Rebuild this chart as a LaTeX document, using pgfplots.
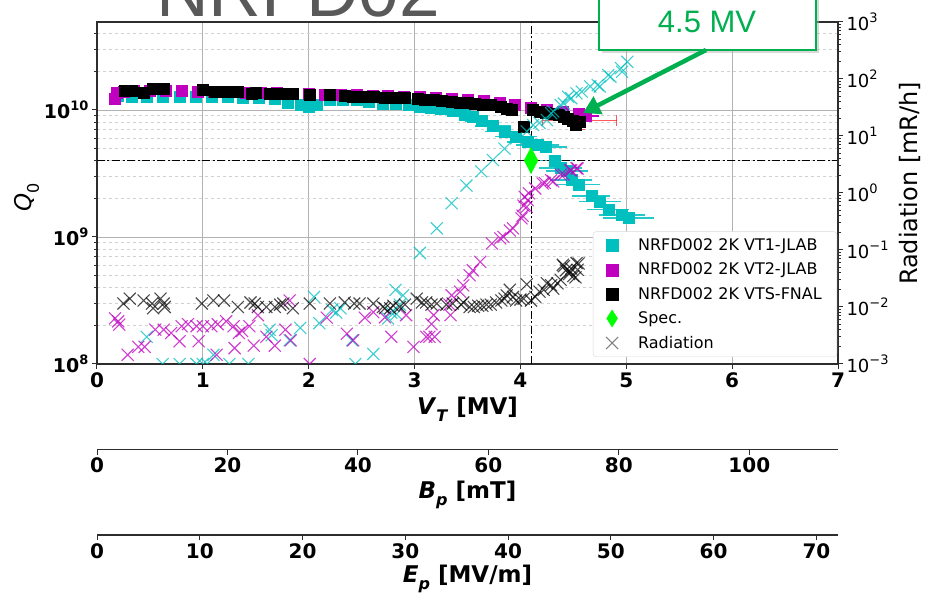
\documentclass[border=0pt]{standalone}
\usepackage{fontspec}
\setmainfont{DejaVu Sans}
\newfontfamily\arialfont{Liberation Sans}
\usepackage{pgfplots}
\pgfplotsset{compat=1.18}
\usetikzlibrary{arrows.meta}
\definecolor{cc}{RGB}{0,191,191}
\definecolor{mm}{RGB}{191,0,191}
\definecolor{callgreen}{RGB}{0,176,80}
\definecolor{limeg}{RGB}{0,255,0}
\definecolor{titlegray}{RGB}{89,89,89}
\definecolor{spine}{RGB}{45,45,45}
\newcommand{\tenexp}[1]{10\raisebox{0.45em}{\fontsize{13}{13}\selectfont #1}}
\begin{document}
\begin{tikzpicture}[x=1pt,y=1pt]
\useasboundingbox (0,0) rectangle (928,594);
\clip (0,0) rectangle (928,594);
% ---------------- main Q0 axis
\begin{axis}[
  at={(97pt,230pt)}, anchor=south west,
  scale only axis, width=741pt, height=342pt,
  xmin=0, xmax=7, ymode=log, ymin=1e8, ymax=4.93e10,
  axis line style={spine, line width=1.5pt},
  tick align=outside, major tick length=5pt, minor tick length=3pt,
  every tick/.style={spine, line width=1pt},
  xtick={0,1,2,3,4,5,6,7}, xticklabels={0,1,2,3,4,5,6,7},
  ytick={1e8,1e9,1e10}, yticklabels={\tenexp{8},\tenexp{9},\tenexp{10}},
  minor ytick={2e8,3e8,4e8,5e8,6e8,7e8,8e8,9e8,2e9,3e9,4e9,5e9,6e9,7e9,8e9,9e9,2e10,3e10,4e10},
  minor xtick={},
  xtick pos=bottom, ytick pos=left,
  xmajorgrids, ymajorgrids, yminorgrids,
  major grid style={black!30, line width=0.8pt},
  minor grid style={black!18, dashed, line width=0.6pt},
  xticklabel style={font=\bfseries\fontsize{20}{20}\selectfont},
  yticklabel style={font=\bfseries\fontsize{19}{19}\selectfont},
  xlabel={\bfseries\fontsize{23}{23}\selectfont\textit{V}\raisebox{-0.3em}{\fontsize{16}{16}\selectfont\textit{T}} [MV]},
  xlabel style={at={(axis description cs:0.5,0)}, anchor=center, yshift=-45pt},
  ylabel={\fontsize{23}{23}\selectfont\textit{Q}\raisebox{-0.3em}{\fontsize{16}{16}\selectfont 0}},
  ylabel style={at={(axis description cs:-0.0945,0.488)}, anchor=center},
]
% cyan VT1-JLAB
\addplot[only marks, mark=square*, mark size=5.5pt, color=cc,
  error bars/.cd, x dir=both, x explicit, error mark=none,
  error bar style={cc, line width=1.5pt, opacity=0.85}]
  table[x=x, y=y, x error=ex] {
x y ex
0.20 1.30e10 0
0.33 1.28e10 0
0.47 1.28e10 0
0.62 1.28e10 0
0.78 1.27e10 0
0.93 1.28e10 0
1.08 1.27e10 0
1.23 1.27e10 0
1.38 1.26e10 0
1.53 1.25e10 0
1.68 1.22e10 0
1.80 1.15e10 0
1.92 1.10e10 0
2.00 1.07e10 0
2.08 1.10e10 0
2.20 1.20e10 0
2.32 1.21e10 0
2.45 1.20e10 0
2.57 1.17e10 0
2.70 1.13e10 0
2.82 1.12e10 0
2.94 1.10e10 0
3.05 1.06e10 0
3.15 1.04e10 0
3.25 1.02e10 0
3.36 9.8e9 0.08
3.47 9.1e9 0.10
3.55 8.8e9 0.12
3.63 8.2e9 0.15
3.74 7.5e9 0.17
3.85 6.8e9 0.18
3.96 6.2e9 0.20
4.07 5.6e9 0.20
4.16 5.3e9 0.20
4.24 5.1e9 0.20
4.32 4.0e9 0.20
4.38 3.5e9 0.20
4.44 3.3e9 0.20
4.48 2.8e9 0.20
4.55 2.6e9 0.20
4.67 2.1e9 0.18
4.75 1.9e9 0.20
4.83 1.64e9 0.20
4.96 1.49e9 0.22
5.02 1.41e9 0.24
};
% magenta VT2-JLAB
\addplot[only marks, mark=square*, mark size=5.5pt, color=mm,
  error bars/.cd, x dir=both, x explicit, error mark=none,
  error bar style={mm, line width=1.5pt}]
  table[x=x, y=y, x error=ex] {
x y ex
0.17 1.22e10 0
0.19 1.36e10 0
0.25 1.40e10 0
0.35 1.41e10 0
0.50 1.41e10 0
0.65 1.41e10 0
0.80 1.41e10 0
0.95 1.40e10 0
1.10 1.40e10 0
1.25 1.39e10 0
1.40 1.38e10 0
1.55 1.37e10 0
1.70 1.36e10 0
1.85 1.35e10 0
2.00 1.34e10 0
2.15 1.33e10 0
2.30 1.32e10 0
2.45 1.31e10 0
2.60 1.30e10 0
2.75 1.29e10 0
2.90 1.28e10 0
3.05 1.27e10 0
3.20 1.25e10 0
3.35 1.23e10 0
3.50 1.21e10 0
3.65 1.18e10 0
3.80 1.14e10 0
3.95 1.10e10 0
4.10 1.05e10 0
4.25 1.01e10 0
4.40 9.7e9 0
4.55 9.3e9 0.1
4.62 9.0e9 0.12
};
% black VTS-FNAL
\addplot[only marks, mark=square*, mark size=5.5pt, color=black] coordinates {
(0.26,1.42e10) (0.33,1.43e10) (0.44,1.37e10) (0.53,1.46e10) (0.63,1.46e10)
(1.00,1.44e10) (1.11,1.39e10) (1.22,1.39e10) (1.33,1.39e10) (1.46,1.34e10)
(1.50,1.36e10) (1.63,1.35e10) (1.74,1.35e10) (1.85,1.34e10) (2.01,1.33e10)
(2.20,1.31e10) (2.34,1.30e10) (2.42,1.28e10) (2.50,1.28e10) (2.61,1.27e10)
(2.72,1.25e10) (2.80,1.24e10) (2.91,1.24e10) (3.03,1.22e10) (3.10,1.21e10)
(3.18,1.20e10) (3.26,1.18e10) (3.35,1.16e10) (3.43,1.15e10) (3.50,1.14e10)
(3.57,1.12e10) (3.64,1.11e10) (3.72,1.10e10) (3.81,1.06e10) (3.87,1.03e10)
(3.92,1.00e10) (4.03,7.4e9) (4.12,1.00e10) (4.18,9.7e9) (4.24,9.5e9)
(4.31,9.3e9) (4.36,9.1e9) (4.41,8.9e9) (4.45,8.6e9) (4.49,8.3e9)
(4.52,7.6e9) (4.56,8.1e9)
};
% red error bars
\addplot[red, only marks, mark=*, mark size=0.1pt,
  error bars/.cd, x dir=both, y dir=both, x explicit, y explicit relative,
  error bar style={red, line width=1.3pt, opacity=0.65},
  error mark options={draw=red, rotate=90, mark size=5.5pt, line width=1.3pt}]
  coordinates {(4.56,8.3e9) +- (0.35,0.15)};
% spec lines
\addplot[black, line width=0.9pt, dash pattern=on 8pt off 2.5pt on 2pt off 2.5pt] coordinates {(4.1,1e8) (4.1,4.93e10)};
\addplot[black, line width=0.9pt, dash pattern=on 8pt off 2.5pt on 2pt off 2.5pt] coordinates {(0,4e9) (7,4e9)};
% spec point
\addplot[only marks, mark=diamond*, mark size=13pt, color=limeg, mark options={xscale=0.7, fill=limeg, draw=limeg}] coordinates {(4.1,4e9)};
\end{axis}
% ---------------- radiation axis
\begin{axis}[
  at={(97pt,230pt)}, anchor=south west,
  scale only axis, width=741pt, height=342pt,
  xmin=0, xmax=7, ymode=log, ymin=1e-3, ymax=1e3,
  axis x line=none, axis y line*=right,
  axis line style={spine, line width=1.5pt},
  tick align=outside, major tick length=5pt, minor tick length=3pt,
  every tick/.style={spine, line width=1pt},
  ytick={1e-3,1e-2,1e-1,1,10,100,1000},
  yticklabels={\tenexp{−3},\tenexp{−2},\tenexp{−1},\tenexp{0},\tenexp{1},\tenexp{2},\tenexp{3}},
  minor ytick={2e-3,3e-3,4e-3,5e-3,6e-3,7e-3,8e-3,9e-3,2e-2,3e-2,4e-2,5e-2,6e-2,7e-2,8e-2,9e-2,0.2,0.3,0.4,0.5,0.6,0.7,0.8,0.9,2,3,4,5,6,7,8,9,20,30,40,50,60,70,80,90,200,300,400,500,600,700,800,900},
  yticklabel style={font=\fontsize{18}{18}\selectfont},
  ylabel={\fontsize{24}{24}\selectfont Radiation [mR/h]},
  ylabel style={at={(axis description cs:1.097,0.528)}, anchor=center},
  clip marker paths=true,
  legend cell align=left,
  legend style={at={(1,0)}, anchor=south east, xshift=-1pt, yshift=7pt,
    draw=black!15, rounded corners=3pt, fill=white,
    font=\fontsize{16}{16}\selectfont, row sep=7pt, inner xsep=13pt, inner ysep=5pt,
    /tikz/every odd column/.append style={column sep=18pt}},
]
\addlegendimage{only marks, mark=square*, mark size=6pt, color=cc}
\addlegendentry{NRFD002 2K VT1-JLAB}
\addlegendimage{only marks, mark=square*, mark size=6pt, color=mm}
\addlegendentry{NRFD002 2K VT2-JLAB}
\addlegendimage{only marks, mark=square*, mark size=6pt, color=black}
\addlegendentry{NRFD002 2K VTS-FNAL}
\addlegendimage{only marks, mark=diamond*, mark size=8.5pt, color=limeg, mark options={xscale=0.85, fill=limeg, draw=limeg}}
\addlegendentry{Spec.}
\addlegendimage{only marks, mark=x, mark size=8.5pt, color=black!50, line width=1.1pt}
\addlegendentry{Radiation}
% cyan radiation
\addplot[forget plot, only marks, mark=x, mark size=8.5pt, color=cc, mark options={line width=1.1pt, opacity=0.75}] coordinates {
(0.47,3.0e-3) (0.62,1.0e-3) (0.78,1.0e-3) (0.94,1.0e-3) (1.00,1.0e-3) (1.04,1.0e-3)
(1.10,1.45e-3) (1.25,1.0e-3) (1.43,1.0e-3) (1.63,4.0e-3) (1.65,3.2e-3) (1.82,2.6e-3)
(1.92,4.3e-3) (2.05,1.5e-2) (2.10,5.2e-3) (2.22,8.9e-3) (2.30,9.5e-3) (2.26,8.0e-3)
(2.41,2.6e-3) (2.44,1.0e-3) (2.61,1.5e-3) (2.75,6.3e-3) (2.78,8.0e-3) (2.82,2.0e-2)
(2.83,7.5e-3) (2.86,1.1e-2) (2.89,1.6e-2) (3.05,8.9e-2) (3.21,0.24) (3.35,0.66)
(3.49,1.35) (3.63,2.4) (3.74,3.8) (3.85,6.0) (3.96,9.1) (4.06,12) (4.12,15.6)
(4.18,17) (4.25,19) (4.29,25) (4.31,27) (4.38,35) (4.41,37) (4.45,49) (4.48,46)
(4.53,56) (4.58,60) (4.66,74) (4.73,78) (4.75,74) (4.83,117) (4.85,110)
(4.95,155) (4.96,134) (5.01,200)
};
% magenta radiation
\addplot[forget plot, only marks, mark=x, mark size=8.5pt, color=mm, mark options={line width=1.1pt, opacity=0.75}] coordinates {
(0.17,6.3e-3) (0.20,5.6e-3) (0.21,4.9e-3) (0.29,1.45e-3) (0.39,2.0e-3) (0.45,2.0e-3)
(0.55,4.0e-3) (0.63,4.0e-3) (0.70,3.5e-3) (0.78,2.5e-3) (0.80,4.6e-3) (0.86,5.0e-3)
(0.94,4.6e-3) (0.96,2.5e-3) (1.00,4.6e-3) (1.08,4.6e-3) (1.13,1.45e-3) (1.14,5.0e-3)
(1.22,5.6e-3) (1.29,4.6e-3) (1.30,1.9e-3) (1.34,3.5e-3) (1.37,3.8e-3) (1.44,4.6e-3)
(1.48,2.1e-3) (1.52,7.2e-3) (1.60,3.0e-3) (1.68,2.1e-3) (1.78,4.0e-3) (1.82,1.3e-2)
(1.83,2.6e-3) (2.01,1.0e-3) (2.17,6.5e-3) (2.36,3.4e-3) (2.42,2.6e-3) (2.53,6.5e-3)
(2.61,8.1e-3) (2.72,6.6e-3) (2.78,3.0e-3) (2.92,7.2e-3) (2.99,2.0e-3) (3.11,3.0e-3)
(3.14,3.0e-3) (3.16,5.0e-3) (3.18,7.2e-3) (3.19,3.0e-3) (3.33,1.1e-2) (3.34,7.2e-3)
(3.35,1.6e-2) (3.43,1.86e-2) (3.46,2.4e-2) (3.52,3.6e-2) (3.55,4.4e-2) (3.62,6.2e-2)
(3.73,0.13) (3.81,0.16) (3.84,0.17) (3.90,0.22) (3.93,0.24) (4.01,0.36) (4.02,0.40)
(4.03,0.60) (4.06,0.57) (4.07,0.75) (4.04,0.86) (4.08,0.99) (4.14,1.2) (4.21,1.47)
(4.23,1.5) (4.29,1.67) (4.31,1.6) (4.38,2.1) (4.41,2.1) (4.47,2.5) (4.48,2.5)
(4.53,2.7) (4.54,2.7)
};
% black radiation
\addplot[forget plot, only marks, mark=x, mark size=8.5pt, color=black, mark options={line width=1.1pt, opacity=0.7}] coordinates {
(0.25,1.15e-2) (0.31,1.4e-2) (0.44,1.3e-2) (0.52,1.15e-2) (0.53,9.5e-3) (0.60,1.4e-2)
(0.63,1.15e-2) (0.64,1.0e-2) (0.99,1.15e-2) (1.10,1.3e-2) (1.20,1.3e-2) (1.33,1.0e-2)
(1.45,1.2e-2) (1.49,1.15e-2) (1.52,1.0e-2) (1.60,1.0e-2) (1.68,1.0e-2) (1.73,1.1e-2)
(1.76,1.15e-2) (1.85,9.5e-3) (2.01,1.15e-2) (2.20,1.15e-2) (2.34,1.2e-2) (2.43,1.15e-2)
(2.48,1.15e-2) (2.61,1.15e-2) (2.70,1.0e-2) (2.72,9.5e-3) (2.77,9.5e-3) (2.80,1.05e-2)
(2.86,1.0e-2) (2.91,1.1e-2) (3.02,1.4e-2) (3.07,1.2e-2) (3.11,1.2e-2) (3.16,1.1e-2)
(3.21,1.15e-2) (3.30,1.1e-2) (3.36,1.15e-2) (3.44,1.1e-2) (3.46,1.2e-2) (3.52,1.0e-2)
(3.56,1.0e-2) (3.60,1.05e-2) (3.64,1.05e-2) (3.68,1.1e-2) (3.72,1.1e-2) (3.77,1.2e-2)
(3.82,1.3e-2) (3.85,1.4e-2) (3.87,1.6e-2) (3.90,2.0e-2) (3.93,1.5e-2) (3.96,1.3e-2)
(4.00,1.35e-2) (4.03,1.4e-2) (4.06,2.5e-2) (4.10,1.3e-2) (4.14,1.5e-2) (4.18,1.86e-2)
(4.22,2.0e-2) (4.25,2.6e-2) (4.29,2.4e-2) (4.31,2.1e-2) (4.35,2.6e-2) (4.38,3.0e-2)
(4.40,5.5e-2) (4.41,5.2e-2) (4.43,4.4e-2) (4.46,3.8e-2) (4.47,4.2e-2) (4.48,4.7e-2)
(4.50,3.5e-2) (4.52,3.3e-2) (4.53,5.9e-2) (4.54,4.5e-2) (4.55,5.8e-2)
};
\end{axis}
% ---------------- Bp axis
\begin{axis}[
  at={(97pt,144.5pt)}, anchor=south west,
  scale only axis, width=741pt, height=10pt,
  xmin=0, xmax=113.6, ymin=0, ymax=1,
  axis x line*=bottom, axis y line=none,
  axis line style={spine, line width=1.5pt, -},
  tick align=outside, major tick length=5pt,
  every tick/.style={spine, line width=1pt},
  xtick={0,20,40,60,80,100}, xticklabels={0,20,40,60,80,100},
  xticklabel style={font=\bfseries\fontsize{20}{20}\selectfont},
  xlabel={\bfseries\fontsize{23}{23}\selectfont\textit{B}\raisebox{-0.3em}{\fontsize{16}{16}\selectfont\textit{p}} [mT]},
  xlabel style={at={(axis description cs:0.5,0)}, anchor=center, yshift=-45pt},
]
\addplot[draw=none] coordinates {(0,0) (113.6,1)};
\end{axis}
% ---------------- Ep axis
\begin{axis}[
  at={(97pt,59pt)}, anchor=south west,
  scale only axis, width=741pt, height=10pt,
  xmin=0, xmax=72.1, ymin=0, ymax=1,
  axis x line*=bottom, axis y line=none,
  axis line style={spine, line width=1.5pt, -},
  tick align=outside, major tick length=5pt,
  every tick/.style={spine, line width=1pt},
  xtick={0,10,20,30,40,50,60,70}, xticklabels={0,10,20,30,40,50,60,70},
  xticklabel style={font=\bfseries\fontsize{20}{20}\selectfont},
  xlabel={\bfseries\fontsize{23}{23}\selectfont\textit{E}\raisebox{-0.3em}{\fontsize{16}{16}\selectfont\textit{p}} [MV/m]},
  xlabel style={at={(axis description cs:0.5,0)}, anchor=center, yshift=-44pt},
]
\addplot[draw=none] coordinates {(0,0) (72.1,1)};
\end{axis}
% ---------------- title and callout
\node[anchor=base, font=\arialfont\fontsize{73}{73}\selectfont, text=titlegray] at (298,577) {NRFD02};
\fill[black!30, opacity=0.5] (602,541) rectangle (819,600);
\draw[callgreen, line width=2pt, fill=white] (599,544) rectangle (816,600);
\node[anchor=base, font=\arialfont\fontsize{31}{31}\selectfont, text=callgreen] at (707,561) {4.5 MV};
\draw[callgreen, line width=4.5pt, -{Triangle[length=17pt,width=19pt]}] (706,544) -- (583,481);
\end{tikzpicture}
\end{document}
